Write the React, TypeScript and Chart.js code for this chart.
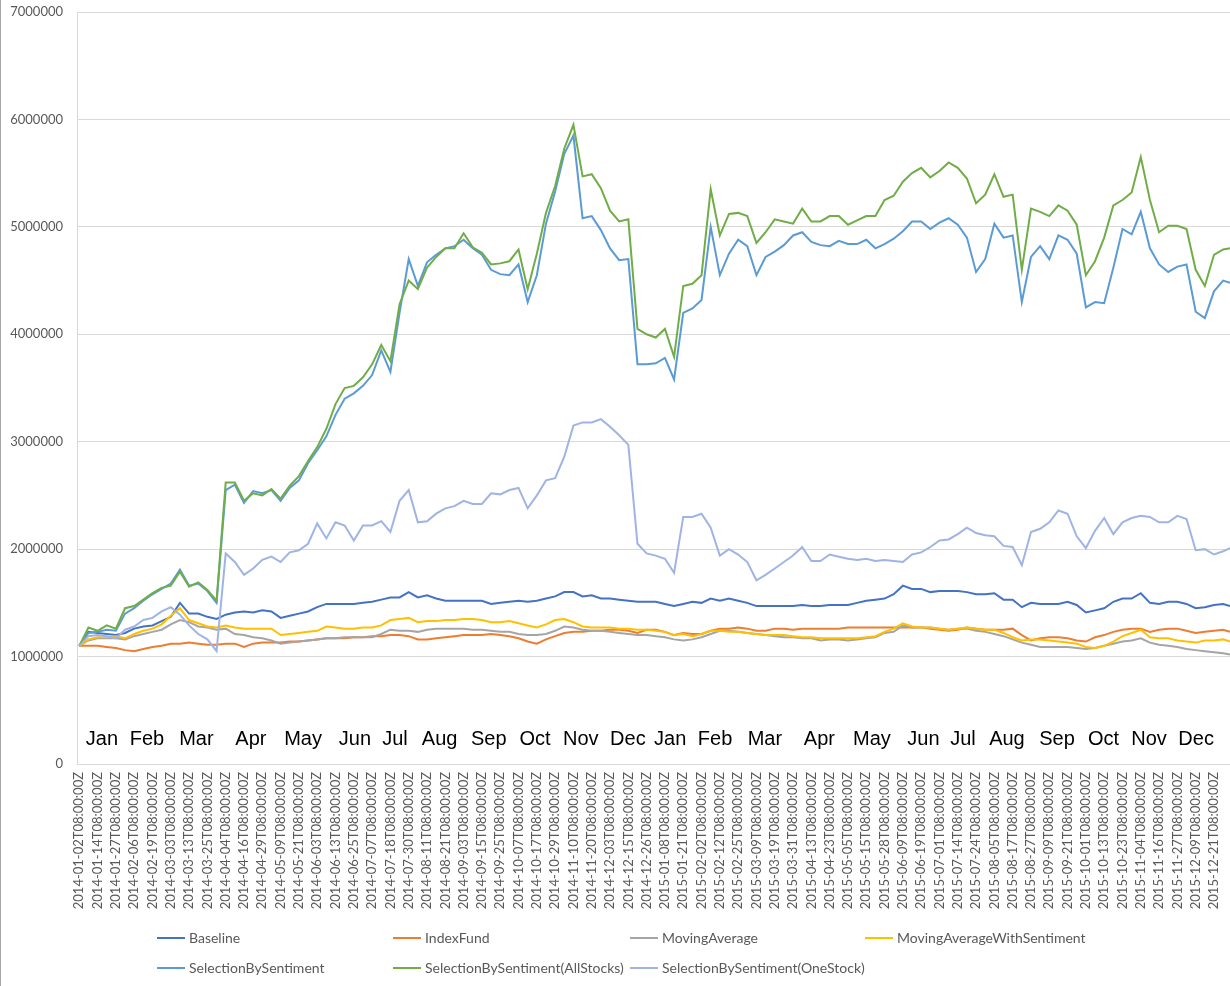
import { useEffect, useRef } from "react";
import { Chart, registerables } from "chart.js";

Chart.register(...registerables);

// ---------- categories / tick labels ----------
const tickLabels = [
  "2014-01-02T08:00:00Z", "2014-01-14T08:00:00Z", "2014-01-27T08:00:00Z", "2014-02-06T08:00:00Z",
  "2014-02-19T08:00:00Z", "2014-03-03T08:00:00Z", "2014-03-13T08:00:00Z", "2014-03-25T08:00:00Z",
  "2014-04-04T08:00:00Z", "2014-04-16T08:00:00Z", "2014-04-29T08:00:00Z", "2014-05-09T08:00:00Z",
  "2014-05-21T08:00:00Z", "2014-06-03T08:00:00Z", "2014-06-13T08:00:00Z", "2014-06-25T08:00:00Z",
  "2014-07-07T08:00:00Z", "2014-07-18T08:00:00Z", "2014-07-30T08:00:00Z", "2014-08-11T08:00:00Z",
  "2014-08-21T08:00:00Z", "2014-09-03T08:00:00Z", "2014-09-15T08:00:00Z", "2014-09-25T08:00:00Z",
  "2014-10-07T08:00:00Z", "2014-10-17T08:00:00Z", "2014-10-29T08:00:00Z", "2014-11-10T08:00:00Z",
  "2014-11-20T08:00:00Z", "2014-12-03T08:00:00Z", "2014-12-15T08:00:00Z", "2014-12-26T08:00:00Z",
  "2015-01-08T08:00:00Z", "2015-01-21T08:00:00Z", "2015-02-02T08:00:00Z", "2015-02-12T08:00:00Z",
  "2015-02-25T08:00:00Z", "2015-03-09T08:00:00Z", "2015-03-19T08:00:00Z", "2015-03-31T08:00:00Z",
  "2015-04-13T08:00:00Z", "2015-04-23T08:00:00Z", "2015-05-05T08:00:00Z", "2015-05-15T08:00:00Z",
  "2015-05-28T08:00:00Z", "2015-06-09T08:00:00Z", "2015-06-19T08:00:00Z", "2015-07-01T08:00:00Z",
  "2015-07-14T08:00:00Z", "2015-07-24T08:00:00Z", "2015-08-05T08:00:00Z", "2015-08-17T08:00:00Z",
  "2015-08-27T08:00:00Z", "2015-09-09T08:00:00Z", "2015-09-21T08:00:00Z", "2015-10-01T08:00:00Z",
  "2015-10-13T08:00:00Z", "2015-10-23T08:00:00Z", "2015-11-04T08:00:00Z", "2015-11-16T08:00:00Z",
  "2015-11-27T08:00:00Z", "2015-12-09T08:00:00Z", "2015-12-21T08:00:00Z",
];
const TICK_STEP = 8; // trading days between tick labels
const SAMPLE_STEP = 4; // trading days between stored values
const LAST_INDEX = 503; // last trading day index

const yTickLabels = ["0", "1000000", "2000000", "3000000", "4000000", "5000000", "6000000", "7000000"];

const monthNames = [
  "Jan", "Feb", "Mar", "Apr", "May", "Jun", "Jul", "Aug", "Sep", "Oct", "Nov", "Dec",
  "Jan", "Feb", "Mar", "Apr", "May", "Jun", "Jul", "Aug", "Sep", "Oct", "Nov", "Dec",
];
// position of each month label, in trading-day index
const monthPositions = [
  9.9, 29.6, 51.2, 75.0, 97.8, 120.5, 138.0, 157.5, 179.0, 199.2, 219.2, 239.8,
  258.3, 277.9, 299.7, 323.5, 346.5, 369.0, 386.3, 405.5, 427.4, 447.7, 467.6, 488.2,
];

const seriesNames = [
  "Baseline", "IndexFund", "MovingAverage", "MovingAverageWithSentiment",
  "SelectionBySentiment", "SelectionBySentiment(AllStocks)", "SelectionBySentiment(OneStock)",
];
const seriesColors = ["#4472C4", "#ED7D31", "#A5A5A5", "#FFC000", "#5B9BD5", "#70AD47", "#9FB4E3"];

// ---------- series values (millions), one every 4 trading days, last = final day ----------
const baseline = [
  1.10, 1.23, 1.22, 1.21, 1.20, 1.22, 1.26, 1.28, 1.29, 1.33,
  1.37, 1.50, 1.40, 1.40, 1.37, 1.35, 1.39, 1.41, 1.42, 1.41,
  1.43, 1.42, 1.36, 1.38, 1.40, 1.42, 1.46, 1.49, 1.49, 1.49,
  1.49, 1.50, 1.51, 1.53, 1.55, 1.55, 1.60, 1.55, 1.57, 1.54,
  1.52, 1.52, 1.52, 1.52, 1.52, 1.49, 1.50, 1.51, 1.52, 1.51,
  1.52, 1.54, 1.56, 1.60, 1.60, 1.56, 1.57, 1.54, 1.54, 1.53,
  1.52, 1.51, 1.51, 1.51, 1.49, 1.47, 1.49, 1.51, 1.50, 1.54,
  1.52, 1.54, 1.52, 1.50, 1.47, 1.47, 1.47, 1.47, 1.47, 1.48,
  1.47, 1.47, 1.48, 1.48, 1.48, 1.50, 1.52, 1.53, 1.54, 1.58,
  1.66, 1.63, 1.63, 1.60, 1.61, 1.61, 1.61, 1.60, 1.58, 1.58,
  1.59, 1.53, 1.53, 1.46, 1.50, 1.49, 1.49, 1.49, 1.51, 1.48,
  1.41, 1.43, 1.45, 1.51, 1.54, 1.54, 1.59, 1.50, 1.49, 1.51,
  1.51, 1.49, 1.45, 1.46, 1.48, 1.49, 1.47,
];
const indexFund = [
  1.10, 1.10, 1.10, 1.09, 1.08, 1.06, 1.05, 1.07, 1.09, 1.10,
  1.12, 1.12, 1.13, 1.12, 1.11, 1.11, 1.12, 1.12, 1.09, 1.12,
  1.13, 1.13, 1.13, 1.14, 1.14, 1.15, 1.16, 1.17, 1.17, 1.17,
  1.18, 1.18, 1.19, 1.19, 1.20, 1.20, 1.19, 1.16, 1.16, 1.17,
  1.18, 1.19, 1.20, 1.20, 1.20, 1.21, 1.20, 1.19, 1.17, 1.14,
  1.12, 1.16, 1.19, 1.22, 1.23, 1.23, 1.24, 1.24, 1.25, 1.25,
  1.24, 1.22, 1.25, 1.25, 1.23, 1.20, 1.22, 1.21, 1.21, 1.24,
  1.26, 1.26, 1.27, 1.26, 1.24, 1.24, 1.26, 1.26, 1.25, 1.26,
  1.26, 1.26, 1.26, 1.26, 1.27, 1.27, 1.27, 1.27, 1.27, 1.27,
  1.27, 1.27, 1.27, 1.26, 1.25, 1.24, 1.25, 1.27, 1.26, 1.25,
  1.25, 1.25, 1.26, 1.20, 1.15, 1.17, 1.18, 1.18, 1.17, 1.15,
  1.14, 1.18, 1.20, 1.23, 1.25, 1.26, 1.26, 1.23, 1.25, 1.26,
  1.26, 1.24, 1.22, 1.23, 1.24, 1.25, 1.23,
];
const movingAverage = [
  1.10, 1.15, 1.17, 1.17, 1.17, 1.16, 1.19, 1.21, 1.23, 1.25,
  1.30, 1.34, 1.32, 1.28, 1.27, 1.25, 1.26, 1.21, 1.20, 1.18,
  1.17, 1.15, 1.12, 1.13, 1.14, 1.15, 1.16, 1.17, 1.17, 1.18,
  1.18, 1.18, 1.18, 1.21, 1.25, 1.24, 1.24, 1.23, 1.25, 1.26,
  1.26, 1.26, 1.26, 1.25, 1.25, 1.24, 1.23, 1.23, 1.21, 1.20,
  1.20, 1.21, 1.24, 1.28, 1.27, 1.25, 1.24, 1.24, 1.23, 1.22,
  1.21, 1.20, 1.20, 1.19, 1.18, 1.16, 1.15, 1.16, 1.18, 1.21,
  1.24, 1.24, 1.23, 1.22, 1.21, 1.20, 1.19, 1.18, 1.18, 1.17,
  1.17, 1.15, 1.16, 1.16, 1.15, 1.16, 1.17, 1.18, 1.22, 1.23,
  1.29, 1.27, 1.27, 1.27, 1.26, 1.25, 1.26, 1.26, 1.24, 1.23,
  1.21, 1.19, 1.16, 1.13, 1.11, 1.09, 1.09, 1.09, 1.09, 1.08,
  1.07, 1.08, 1.10, 1.12, 1.14, 1.15, 1.17, 1.13, 1.11, 1.10,
  1.09, 1.07, 1.06, 1.05, 1.04, 1.03, 1.02,
];
const movingAverageWithSentiment = [
  1.10, 1.16, 1.18, 1.18, 1.19, 1.17, 1.21, 1.24, 1.26, 1.30,
  1.38, 1.45, 1.34, 1.31, 1.28, 1.27, 1.29, 1.27, 1.26, 1.26,
  1.26, 1.26, 1.20, 1.21, 1.22, 1.23, 1.24, 1.28, 1.27, 1.26,
  1.26, 1.27, 1.27, 1.29, 1.34, 1.35, 1.36, 1.32, 1.33, 1.33,
  1.34, 1.34, 1.35, 1.35, 1.34, 1.32, 1.32, 1.33, 1.31, 1.29,
  1.27, 1.30, 1.34, 1.35, 1.32, 1.28, 1.27, 1.27, 1.27, 1.26,
  1.26, 1.25, 1.25, 1.24, 1.23, 1.20, 1.21, 1.19, 1.21, 1.24,
  1.24, 1.23, 1.23, 1.22, 1.21, 1.20, 1.20, 1.20, 1.19, 1.18,
  1.18, 1.17, 1.17, 1.17, 1.17, 1.17, 1.18, 1.19, 1.23, 1.26,
  1.31, 1.28, 1.27, 1.27, 1.26, 1.25, 1.26, 1.27, 1.26, 1.25,
  1.25, 1.22, 1.18, 1.15, 1.16, 1.16, 1.15, 1.14, 1.13, 1.12,
  1.09, 1.08, 1.10, 1.14, 1.19, 1.22, 1.25, 1.18, 1.17, 1.17,
  1.15, 1.14, 1.13, 1.15, 1.15, 1.16, 1.14,
];
const selectionBySentiment = [
  1.10, 1.22, 1.23, 1.25, 1.24, 1.40, 1.45, 1.52, 1.58, 1.63,
  1.68, 1.81, 1.66, 1.68, 1.61, 1.50, 2.55, 2.60, 2.43, 2.54,
  2.52, 2.55, 2.45, 2.57, 2.64, 2.80, 2.92, 3.05, 3.25, 3.40,
  3.45, 3.52, 3.62, 3.85, 3.65, 4.20, 4.70, 4.45, 4.67, 4.74,
  4.80, 4.82, 4.88, 4.80, 4.74, 4.60, 4.56, 4.55, 4.65, 4.30,
  4.55, 5.03, 5.33, 5.68, 5.85, 5.08, 5.10, 4.97, 4.80, 4.69,
  4.70, 3.72, 3.72, 3.73, 3.78, 3.58, 4.20, 4.24, 4.32, 5.00,
  4.55, 4.75, 4.88, 4.82, 4.55, 4.72, 4.77, 4.83, 4.92, 4.95,
  4.86, 4.83, 4.82, 4.87, 4.84, 4.84, 4.88, 4.80, 4.84, 4.89,
  4.96, 5.05, 5.05, 4.98, 5.04, 5.08, 5.02, 4.90, 4.58, 4.70,
  5.03, 4.90, 4.92, 4.30, 4.72, 4.82, 4.70, 4.92, 4.88, 4.75,
  4.25, 4.30, 4.29, 4.62, 4.98, 4.93, 5.14, 4.80, 4.65, 4.58,
  4.63, 4.65, 4.21, 4.15, 4.40, 4.50, 4.48,
];
const selectionAllStocks = [
  1.10, 1.27, 1.24, 1.29, 1.26, 1.45, 1.47, 1.53, 1.59, 1.64,
  1.66, 1.79, 1.65, 1.69, 1.62, 1.52, 2.62, 2.62, 2.45, 2.52,
  2.50, 2.56, 2.47, 2.59, 2.68, 2.82, 2.95, 3.12, 3.35, 3.50,
  3.52, 3.60, 3.72, 3.90, 3.75, 4.28, 4.50, 4.42, 4.62, 4.72,
  4.80, 4.80, 4.94, 4.81, 4.76, 4.65, 4.66, 4.68, 4.79, 4.42,
  4.75, 5.13, 5.38, 5.73, 5.95, 5.47, 5.49, 5.36, 5.15, 5.05,
  5.07, 4.05, 4.00, 3.97, 4.05, 3.79, 4.45, 4.47, 4.55, 5.35,
  4.92, 5.12, 5.13, 5.10, 4.85, 4.95, 5.07, 5.05, 5.03, 5.17,
  5.05, 5.05, 5.10, 5.10, 5.02, 5.06, 5.10, 5.10, 5.25, 5.29,
  5.42, 5.50, 5.55, 5.46, 5.52, 5.60, 5.55, 5.45, 5.22, 5.30,
  5.49, 5.28, 5.30, 4.60, 5.17, 5.14, 5.10, 5.20, 5.15, 5.02,
  4.55, 4.68, 4.90, 5.20, 5.25, 5.32, 5.65, 5.25, 4.95, 5.01,
  5.01, 4.98, 4.60, 4.45, 4.74, 4.79, 4.80,
];
const selectionOneStock = [
  1.10, 1.19, 1.20, 1.19, 1.17, 1.25, 1.28, 1.34, 1.36, 1.42,
  1.46, 1.39, 1.29, 1.21, 1.16, 1.05, 1.96, 1.88, 1.76, 1.82,
  1.90, 1.93, 1.88, 1.97, 1.99, 2.05, 2.24, 2.10, 2.25, 2.22,
  2.08, 2.22, 2.22, 2.26, 2.16, 2.45, 2.55, 2.25, 2.26, 2.33,
  2.38, 2.40, 2.45, 2.42, 2.42, 2.52, 2.51, 2.55, 2.57, 2.38,
  2.50, 2.64, 2.66, 2.86, 3.15, 3.18, 3.18, 3.21, 3.14, 3.06,
  2.97, 2.05, 1.96, 1.94, 1.91, 1.78, 2.30, 2.30, 2.33, 2.20,
  1.94, 2.00, 1.95, 1.88, 1.71, 1.76, 1.82, 1.88, 1.94, 2.02,
  1.89, 1.89, 1.95, 1.93, 1.91, 1.90, 1.91, 1.89, 1.90, 1.89,
  1.88, 1.95, 1.97, 2.02, 2.08, 2.09, 2.14, 2.20, 2.15, 2.13,
  2.12, 2.03, 2.02, 1.85, 2.16, 2.19, 2.25, 2.36, 2.33, 2.12,
  2.01, 2.17, 2.29, 2.14, 2.25, 2.29, 2.31, 2.30, 2.25, 2.25,
  2.31, 2.28, 1.99, 2.00, 1.95, 1.98, 2.01,
];

const seriesValues = [
  baseline, indexFund, movingAverage, movingAverageWithSentiment,
  selectionBySentiment, selectionAllStocks, selectionOneStock,
];

function toPoints(values: number[]) {
  return values.map((v, k) => ({ x: k === values.length - 1 ? LAST_INDEX : k * SAMPLE_STEP, y: v }));
}

const AXIS_FONT = { family: "Lato, 'Open Sans', sans-serif", size: 13 };
const TEXT_COLOR = "#595959";
const GRID_COLOR = "#d9d9d9";

function clearScalePadding(s: any) {
  s.paddingTop = 0;
  s.paddingBottom = 0;
  s.paddingLeft = 0;
  s.paddingRight = 0;
}

const decorPlugin = {
  id: "decor",
  beforeDraw(chart: any) {
    const { ctx, width, height } = chart;
    ctx.save();
    ctx.fillStyle = "#ffffff";
    ctx.fillRect(0, 0, width, height);
    ctx.fillStyle = "#a6a6a6";
    ctx.fillRect(0, 0, 1, height);
    ctx.restore();
  },
  afterDatasetsDraw(chart: any) {
    const { ctx, chartArea } = chart;
    const xs = chart.scales.x;
    ctx.save();
    ctx.fillStyle = "#000000";
    ctx.font = "20px 'Liberation Sans', Arial, sans-serif";
    ctx.textAlign = "center";
    ctx.textBaseline = "alphabetic";
    monthNames.forEach((m, k) => {
      ctx.fillText(m, xs.getPixelForValue(monthPositions[k]), chartArea.bottom - 19);
    });
    ctx.restore();
  },
  afterDraw(chart: any) {
    const { ctx } = chart;
    const colX = [157, 393, 630, 865];
    const rowY = [938, 968];
    ctx.save();
    ctx.font = "14px Lato, 'Open Sans', sans-serif";
    ctx.textBaseline = "middle";
    ctx.textAlign = "left";
    seriesNames.forEach((name, k) => {
      const x = colX[k % 4];
      const y = rowY[Math.floor(k / 4)];
      ctx.strokeStyle = seriesColors[k];
      ctx.lineWidth = 2;
      ctx.beginPath();
      ctx.moveTo(x, y);
      ctx.lineTo(x + 28, y);
      ctx.stroke();
      ctx.fillStyle = TEXT_COLOR;
      ctx.fillText(name, x + 32, y);
    });
    ctx.restore();
  },
};

export default function App() {
  const canvasRef = useRef<HTMLCanvasElement | null>(null);

  useEffect(() => {
    document.body.style.margin = "0";
    const canvas = canvasRef.current;
    if (!canvas) return;
    const chart = new Chart(canvas, {
      type: "line",
      data: {
        datasets: seriesNames.map((name, k) => ({
          label: name,
          data: toPoints(seriesValues[k]),
          borderColor: seriesColors[k],
          backgroundColor: seriesColors[k],
          borderWidth: 2,
          pointRadius: 0,
          tension: 0,
          fill: false,
          order: seriesNames.length - 1 - k,
        })),
      },
      options: {
        responsive: false,
        animation: false,
        devicePixelRatio: 1,
        layout: { padding: { top: 12, left: 0, right: 0, bottom: 0 } },
        plugins: { legend: { display: false }, tooltip: { enabled: false } },
        scales: {
          x: {
            type: "linear",
            min: -1,
            max: LAST_INDEX,
            grid: { display: false, drawTicks: false },
            border: { display: true, color: GRID_COLOR },
            afterBuildTicks: (s: any) => {
              s.ticks = tickLabels.map((_, k) => ({ value: k * TICK_STEP }));
            },
            afterFit: (s: any) => {
              s.height = 222;
              clearScalePadding(s);
            },
            ticks: {
              autoSkip: false,
              maxRotation: 90,
              minRotation: 90,
              padding: 8,
              color: TEXT_COLOR,
              font: AXIS_FONT,
              callback: (v: any) => tickLabels[Math.round(Number(v) / TICK_STEP)] ?? "",
            },
          },
          y: {
            min: 0,
            max: 7,
            grid: { color: GRID_COLOR, drawTicks: false },
            border: { display: true, color: GRID_COLOR },
            afterFit: (s: any) => {
              s.width = 77;
              clearScalePadding(s);
            },
            ticks: {
              stepSize: 1,
              padding: 14,
              color: TEXT_COLOR,
              font: AXIS_FONT,
              callback: (v: any) => yTickLabels[Math.round(Number(v))] ?? "",
            },
          },
        },
      },
      plugins: [decorPlugin],
    });
    return () => chart.destroy();
  }, []);

  return (
    <div style={{ width: 1230, height: 986 }}>
      <canvas ref={canvasRef} width={1230} height={986} style={{ display: "block", width: 1230, height: 986 }} />
    </div>
  );
}
